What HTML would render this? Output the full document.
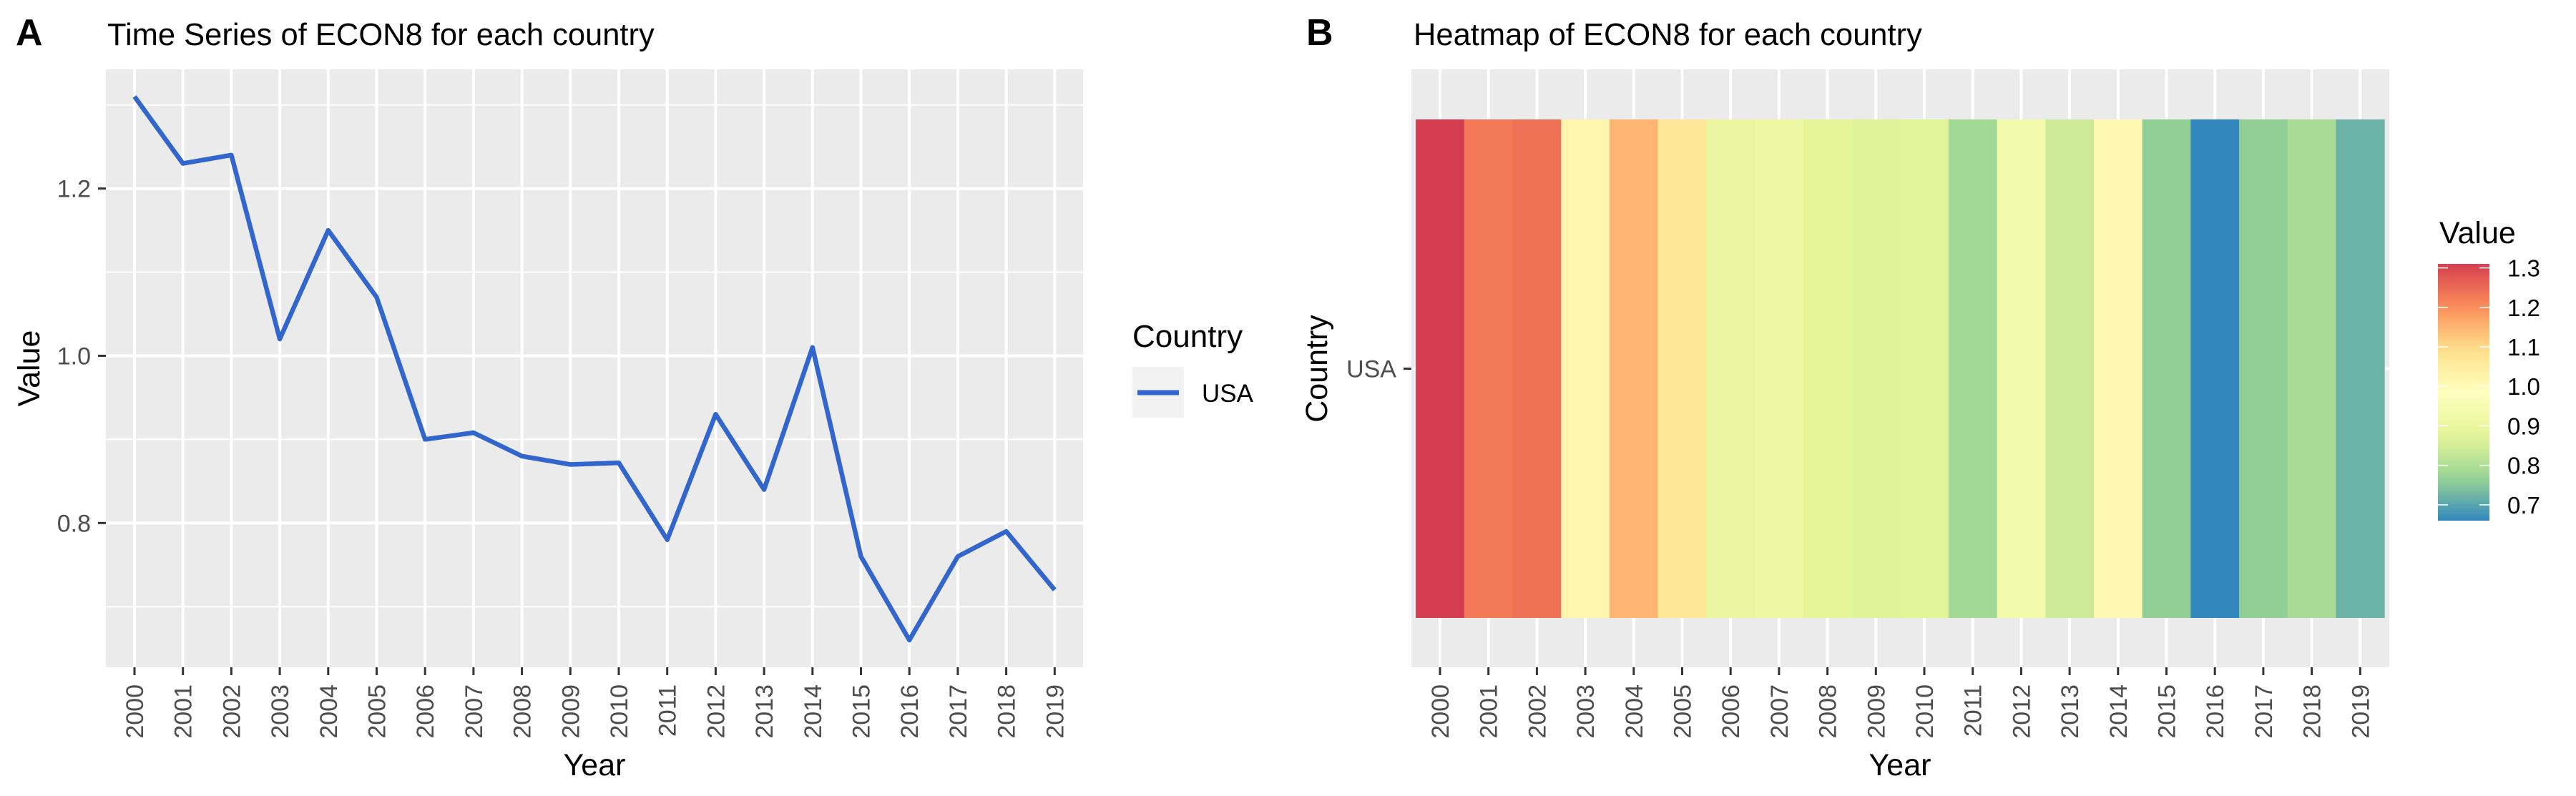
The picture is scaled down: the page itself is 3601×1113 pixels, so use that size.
<!DOCTYPE html>
<html><head><meta charset="utf-8"><style>
html,body{margin:0;padding:0;background:#fff;}
svg{display:block;font-family:"Liberation Sans",Arial,sans-serif;}
</style></head><body>
<svg id="c" width="3601" height="1113" viewBox="0 0 3601 1113" xmlns="http://www.w3.org/2000/svg">
<text x="22" y="63" font-size="52" font-weight="bold">A</text>
<text x="150" y="63" font-size="43.5">Time Series of ECON8 for each country</text>
<text x="1826" y="63" font-size="52" font-weight="bold">B</text>
<text x="1976" y="63" font-size="43.5">Heatmap of ECON8 for each country</text>
<g id="A"></g><g id="B"></g>
</svg>
<script>
const years = ["2000","2001","2002","2003","2004","2005","2006","2007","2008","2009","2010","2011","2012","2013","2014","2015","2016","2017","2018","2019"];
const values = [1.31,1.23,1.24,1.02,1.15,1.07,0.90,0.908,0.88,0.87,0.872,0.78,0.93,0.84,1.01,0.76,0.66,0.76,0.79,0.72];
const yTicks = [0.8,1.0,1.2];
const yMinor = [0.7,0.9,1.1,1.3];
const legendTicks = [0.7,0.8,0.9,1.0,1.1,1.2,1.3];
const palette = ["#3288BD","#99D594","#E6F598","#FFFFBF","#FEE08B","#FC8D59","#D53E4F"];

const NS="http://www.w3.org/2000/svg";
function mk(parent,tag,attrs,text){const e=document.createElementNS(NS,tag);for(const k in attrs)e.setAttribute(k,attrs[k]);if(text!==undefined)e.textContent=text;parent.appendChild(e);return e;}
const vmin=Math.min(...values), vmax=Math.max(...values);
function hex(h){return [1,3,5].map(i=>parseInt(h.substr(i,2),16));}
function color(v){let t=(v-vmin)/(vmax-vmin);t=Math.max(0,Math.min(1,t))*(palette.length-1);const i=Math.min(Math.floor(t),palette.length-2);const f=t-i;const a=hex(palette[i]),b=hex(palette[i+1]);return "rgb("+a.map((x,j)=>Math.round(x+(b[j]-x)*f)).join(",")+")";}
const STEP=67.7;
const TICKFS=34;

// Panel A
const A=document.getElementById('A');
const ax0=148,ax1=1514,ay0=97,ay1=933;
const span=vmax-vmin, lo=vmin-0.05*span, hi=vmax+0.05*span;
const xA=i=>188+i*STEP;
const yA=v=>ay1-(v-lo)/(hi-lo)*(ay1-ay0);
let bg=mk(A,'rect',{x:ax0,y:ay0,width:ax1-ax0,height:ay1-ay0,fill:'#EBEBEB'});

yMinor.forEach(v=>{const l=mk(A,'line',{x1:ax0,x2:ax1,y1:yA(v),y2:yA(v),stroke:'#fff','stroke-width':2});
});
yTicks.forEach(v=>{const l=mk(A,'line',{x1:ax0,x2:ax1,y1:yA(v),y2:yA(v),stroke:'#fff','stroke-width':4});

const t=mk(A,'line',{x1:ax0-11,x2:ax0,y1:yA(v),y2:yA(v),stroke:'#333','stroke-width':3});

const lb=mk(A,'text',{x:ax0-21,y:yA(v)+12,'font-size':TICKFS,fill:'#4D4D4D','text-anchor':'end'},v.toFixed(1));
});
years.forEach((y,i)=>{const x=xA(i);
const l=mk(A,'line',{x1:x,x2:x,y1:ay0,y2:ay1,stroke:'#fff','stroke-width':4});

const t=mk(A,'line',{x1:x,x2:x,y1:ay1,y2:ay1+11,stroke:'#333','stroke-width':3});

const lb=mk(A,'text',{x:0,y:0,'font-size':TICKFS,fill:'#4D4D4D','text-anchor':'end',transform:`translate(${x+12},${ay1+24}) rotate(-90)`},y);
});
const pl=mk(A,'polyline',{points:values.map((v,i)=>xA(i)+','+yA(v)).join(' '),fill:'none',stroke:'#3366CC','stroke-width':6.5,'stroke-linejoin':'round'});

let tt=mk(A,'text',{x:831,y:1084,'font-size':43,'text-anchor':'middle'},'Year');

tt=mk(A,'text',{x:0,y:0,'font-size':43,'text-anchor':'middle',transform:'translate(55,515) rotate(-90)'},'Value');

tt=mk(A,'text',{x:1583,y:485,'font-size':44},'Country');

tt=mk(A,'rect',{x:1583,y:513,width:72,height:71,fill:'#F2F2F2'});

tt=mk(A,'line',{x1:1590,x2:1648,y1:549,y2:549,stroke:'#3366CC','stroke-width':7});

tt=mk(A,'text',{x:1680,y:562,'font-size':35},'USA');


// Panel B
const B=document.getElementById('B');
const bx0=1973,bx1=3340,by0=97,by1=933;
const xB=i=>2013+i*STEP;
const ty0=167,ty1=864,tyc=(ty0+ty1)/2;
bg=mk(B,'rect',{x:bx0,y:by0,width:bx1-bx0,height:by1-by0,fill:'#EBEBEB'});

let g=mk(B,'line',{x1:bx0,x2:bx1,y1:tyc,y2:tyc,stroke:'#fff','stroke-width':4});

years.forEach((y,i)=>{const x=xB(i);
const l=mk(B,'line',{x1:x,x2:x,y1:by0,y2:by1,stroke:'#fff','stroke-width':4});
});
values.forEach((v,i)=>{const r=mk(B,'rect',{x:xB(i)-STEP/2,y:ty0,width:STEP+0.5,height:ty1-ty0,fill:color(v)});
});
years.forEach((y,i)=>{const x=xB(i);
const t=mk(B,'line',{x1:x,x2:x,y1:by1,y2:by1+11,stroke:'#333','stroke-width':3});

const lb=mk(B,'text',{x:0,y:0,'font-size':TICKFS,fill:'#4D4D4D','text-anchor':'end',transform:`translate(${x+12},${by1+24}) rotate(-90)`},y);
});
g=mk(B,'line',{x1:bx0-11,x2:bx0,y1:tyc,y2:tyc,stroke:'#333','stroke-width':3});

g=mk(B,'text',{x:bx0-21,y:tyc+12,'font-size':TICKFS,fill:'#4D4D4D','text-anchor':'end'},'USA');

g=mk(B,'text',{x:0,y:0,'font-size':43,'text-anchor':'middle',transform:`translate(1855,${tyc}) rotate(-90)`},'Country');

g=mk(B,'text',{x:2656,y:1084,'font-size':43,'text-anchor':'middle'},'Year');

// colorbar
g=mk(B,'text',{x:3410,y:340,'font-size':43},'Value');

const cb0=369,cb1=728;
const defs=mk(B,'defs',{});
const lg=mk(defs,'linearGradient',{id:'cg',x1:0,y1:1,x2:0,y2:0});
for(let k=0;k<=20;k++){const v=vmin+(vmax-vmin)*k/20;mk(lg,'stop',{offset:(k/20),'stop-color':color(v)});}
g=mk(B,'rect',{x:3408,y:cb0,width:72,height:cb1-cb0,fill:'url(#cg)'});

const yC=v=>cb1-(v-vmin)/(vmax-vmin)*(cb1-cb0);
legendTicks.forEach(v=>{const y=yC(v);
let l=mk(B,'line',{x1:3408,x2:3422,y1:y,y2:y,stroke:'#fff','stroke-width':1.5});

l=mk(B,'line',{x1:3466,x2:3480,y1:y,y2:y,stroke:'#fff','stroke-width':1.5});

const t=mk(B,'text',{x:3505,y:y+12,'font-size':33,fill:'#000'},v.toFixed(1));
});
</script>
</body></html>
